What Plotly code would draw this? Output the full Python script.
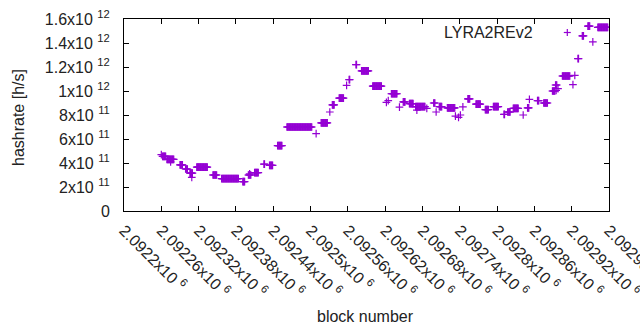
import plotly.graph_objects as go

# Runs of consecutive blocks sharing one hashrate value (h/s)
run_start = [2092262, 2092269, 2092290, 2092299, 2092306, 2092317, 2092343, 2092357,
             2092391, 2092400, 2092410, 2092425, 2092434, 2092447, 2092462, 2092517,
             2092535, 2092546, 2092562, 2092573, 2092582, 2092600, 2092630, 2092649,
             2092659, 2092669, 2092698, 2092707, 2092720, 2092753, 2092766, 2092781,
             2092794, 2092811, 2092817, 2092826, 2092849, 2092865, 2092875, 2092889,
             2092894, 2092905, 2092930, 2092937, 2092946, 2092962]
run_end = [2092267, 2092280, 2092294, 2092302, 2092310, 2092334, 2092349, 2092384,
           2092394, 2092404, 2092416, 2092426, 2092439, 2092454, 2092502, 2092527,
           2092538, 2092553, 2092563, 2092574, 2092593, 2092614, 2092639, 2092652,
           2092665, 2092684, 2092700, 2092711, 2092732, 2092756, 2092773, 2092786,
           2092802, 2092812, 2092821, 2092834, 2092851, 2092867, 2092881, 2092893,
           2092896, 2092917, 2092931, 2092939, 2092949, 2092978]
run_value = [0.455e12, 0.43e12, 0.385e12, 0.35e12, 0.315e12, 0.365e12, 0.30e12, 0.27e12,
             0.245e12, 0.30e12, 0.32e12, 0.39e12, 0.38e12, 0.545e12, 0.70e12, 0.735e12,
             0.885e12, 0.94e12, 1.095e12, 1.22e12, 1.168e12, 1.04e12, 0.977e12, 0.91e12,
             0.895e12, 0.87e12, 0.90e12, 0.87e12, 0.86e12, 0.935e12, 0.89e12, 0.845e12,
             0.87e12, 0.805e12, 0.825e12, 0.855e12, 0.86e12, 0.92e12, 0.90e12, 1.0e12,
             1.05e12, 1.125e12, 1.27e12, 1.46e12, 1.54e12, 1.53e12]

# Isolated blocks
single_block = [2092260, 2092275, 2092309, 2092402, 2092509, 2092531, 2092558, 2092622,
                2092625, 2092643, 2092671, 2092687, 2092702, 2092733, 2092738, 2092741,
                2092745, 2092842, 2092852, 2092895, 2092898, 2092922, 2092925, 2092954]
single_value = [0.47e12, 0.41e12, 0.28e12, 0.31e12, 0.645e12, 0.825e12, 1.047e12, 0.905e12,
                0.92e12, 0.865e12, 0.84e12, 0.855e12, 0.825e12, 0.79e12, 0.78e12, 0.80e12,
                0.867e12, 0.80e12, 0.93e12, 1.005e12, 1.02e12, 1.053e12, 1.13e12, 1.41e12]

x_tickvals = [2092200, 2092260, 2092320, 2092380, 2092440, 2092500, 2092560,
              2092620, 2092680, 2092740, 2092800, 2092860, 2092920, 2092980]
x_mantissa = ["2.0922", "2.09226", "2.09232", "2.09238", "2.09244", "2.0925", "2.09256",
              "2.09262", "2.09268", "2.09274", "2.0928", "2.09286", "2.09292", "2.09298"]
y_tickvals = [0, 0.2e12, 0.4e12, 0.6e12, 0.8e12, 1.0e12, 1.2e12, 1.4e12, 1.6e12]
y_mantissa = ["0", "2", "4", "6", "8", "1", "1.2", "1.4", "1.6"]
y_exponent = ["", "11", "11", "11", "11", "12", "12", "12", "12"]

series_name = "LYRA2REv2"
color = "#9400D3"
font_family = "Liberation Sans, Arial, sans-serif"
fsize = 16


def sci(m, e):
    if not e:
        return m
    return m + "x10 <sup>" + e + "</sup>"


x_ticktext = [sci(m, "6") for m in x_mantissa]
y_ticktext = [sci(m, e) for m, e in zip(y_mantissa, y_exponent)]

xs, ys = [], []
for s, e, v in zip(run_start, run_end, run_value):
    for b in range(s, e + 1):
        xs.append(b)
        ys.append(v)
xs += single_block
ys += single_value

fig = go.Figure()
fig.add_trace(go.Scatter(
    x=xs, y=ys, mode="markers", name=series_name, showlegend=False,
    marker=dict(symbol="cross-thin", size=5.5, color=color,
                line=dict(color=color, width=1.2)),
    cliponaxis=True,
))

L, R, T, B = 124, 31, 19, 119
W, H = 640, 330
pw, ph = W - L - R, H - T - B


def px(xp):
    return (xp - L) / pw


def py(yp):
    return (H - B - yp) / ph


axis_common = dict(showline=True, linecolor="black", linewidth=1, mirror="ticks",
                   ticks="inside", ticklen=5, tickcolor="black", tickwidth=1,
                   showgrid=False, zeroline=False, automargin=False,
                   ticklabeloverflow="allow",
                   tickfont=dict(family=font_family, size=fsize, color="#222"))

fig.update_layout(
    width=W, height=H,
    margin=dict(l=L, r=R, t=T, b=B, pad=0, autoexpand=False),
    paper_bgcolor="white", plot_bgcolor="white",
    font=dict(family=font_family, size=fsize, color="#222"),
    xaxis=dict(range=[2092200, 2092980], tickvals=x_tickvals, ticktext=x_ticktext,
               tickangle=45, ticklabelstandoff=3, **axis_common),
    yaxis=dict(range=[0, 1.6e12], tickvals=y_tickvals, ticktext=y_ticktext,
               ticklabelstandoff=10, **axis_common),
    annotations=[
        dict(text="hashrate [h/s]", xref="paper", yref="paper", x=px(18), y=py(118),
             xanchor="center", yanchor="middle", textangle=-90, showarrow=False,
             font=dict(family=font_family, size=fsize, color="#222")),
        dict(text="block number", xref="paper", yref="paper", x=px(365), y=py(316),
             xanchor="center", yanchor="middle", showarrow=False,
             font=dict(family=font_family, size=fsize, color="#222")),
        dict(text=series_name, xref="paper", yref="paper", x=px(535), y=py(32.5),
             xanchor="right", yanchor="middle", showarrow=False,
             font=dict(family=font_family, size=fsize, color="#222")),
    ],
    shapes=[
        dict(type="line", xref="paper", yref="paper", x0=px(563.8), x1=px(570.8),
             y0=py(32.5), y1=py(32.5), line=dict(color=color, width=1.2)),
        dict(type="line", xref="paper", yref="paper", x0=px(567.3), x1=px(567.3),
             y0=py(29), y1=py(36), line=dict(color=color, width=1.2)),
    ],
)

fig.write_html("out.html",
               config={"displayModeBar": False},
               post_script="document.body.style.margin='0';document.body.style.overflow='hidden';")
